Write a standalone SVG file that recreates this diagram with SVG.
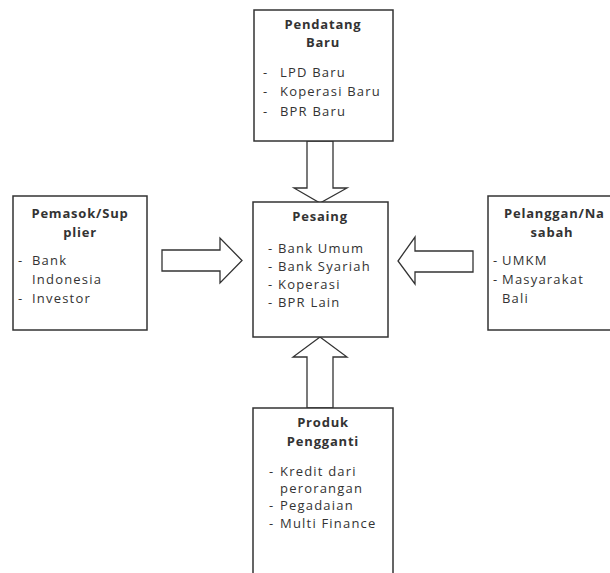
<svg xmlns="http://www.w3.org/2000/svg" width="610" height="573" viewBox="0 0 610 573">
<style>
.box{fill:#fff;stroke:#333;stroke-width:1.5}
.arr{fill:#fff;stroke:#333;stroke-width:1.3;stroke-linejoin:miter}
text{font-family:"Open Sans","Liberation Sans",sans-serif;font-size:13px;fill:#333;letter-spacing:1.2px}
.t{font-weight:bold;text-anchor:middle;letter-spacing:0.8px}
</style>
<rect width="610" height="573" fill="#fff"/>
<g id="connectors">
<path class="arr" d="M307,141 L333,141 L333,188 L347,188 L320,203 L294,188 L307,188 Z"/>
<path class="arr" d="M307,408 L333,408 L333,357 L347,357 L320,337 L293,357 L307,357 Z"/>
<path class="arr" d="M162,250 L220,250 L220,238 L242,260.5 L220,283 L220,271 L162,271 Z"/>
<path class="arr" d="M473,251 L415,251 L415,237 L398,261 L415,284 L415,272 L473,272 Z"/>
</g>
<g id="pendatang">
<rect class="box" x="254" y="10" width="139" height="131"/>
<text class="t" x="323" y="29">Pendatang</text>
<text class="t" x="323" y="47">Baru</text>
<text x="263" y="77">-</text><text x="280" y="77">LPD Baru</text>
<text x="263" y="96">-</text><text x="280" y="96">Koperasi Baru</text>
<text x="263" y="116">-</text><text x="280" y="116">BPR Baru</text>
</g>
<g id="pesaing">
<rect class="box" x="253" y="202" width="135" height="135"/>
<text class="t" x="320" y="221">Pesaing</text>
<text x="268" y="253">-</text><text x="278" y="253">Bank Umum</text>
<text x="268" y="271">-</text><text x="278" y="271">Bank Syariah</text>
<text x="268" y="289">-</text><text x="278" y="289">Koperasi</text>
<text x="268" y="307">-</text><text x="278" y="307">BPR Lain</text>
</g>
<g id="pemasok">
<rect class="box" x="13" y="196" width="134" height="134"/>
<text class="t" x="80" y="218">Pemasok/Sup</text>
<text class="t" x="80" y="237">plier</text>
<text x="18" y="265">-</text><text x="32" y="265">Bank</text>
<text x="32" y="284">Indonesia</text>
<text x="18" y="303">-</text><text x="32" y="303">Investor</text>
</g>
<g id="pelanggan">
<rect class="box" x="488" y="196" width="130" height="134"/>
<text class="t" x="504" y="218" style="text-anchor:start">Pelanggan/Na</text>
<text class="t" x="552" y="237">sabah</text>
<text x="493" y="265">-</text><text x="502" y="265">UMKM</text>
<text x="493" y="284">-</text><text x="502" y="284">Masyarakat</text>
<text x="502" y="303">Bali</text>
</g>
<g id="produk">
<rect class="box" x="253" y="408" width="140" height="175"/>
<text class="t" x="323" y="427">Produk</text>
<text class="t" x="323" y="446">Pengganti</text>
<text x="269" y="476">-</text><text x="280" y="476">Kredit dari</text>
<text x="280" y="493">perorangan</text>
<text x="269" y="510">-</text><text x="280" y="510">Pegadaian</text>
<text x="269" y="528">-</text><text x="280" y="528">Multi Finance</text>
</g>
</svg>
